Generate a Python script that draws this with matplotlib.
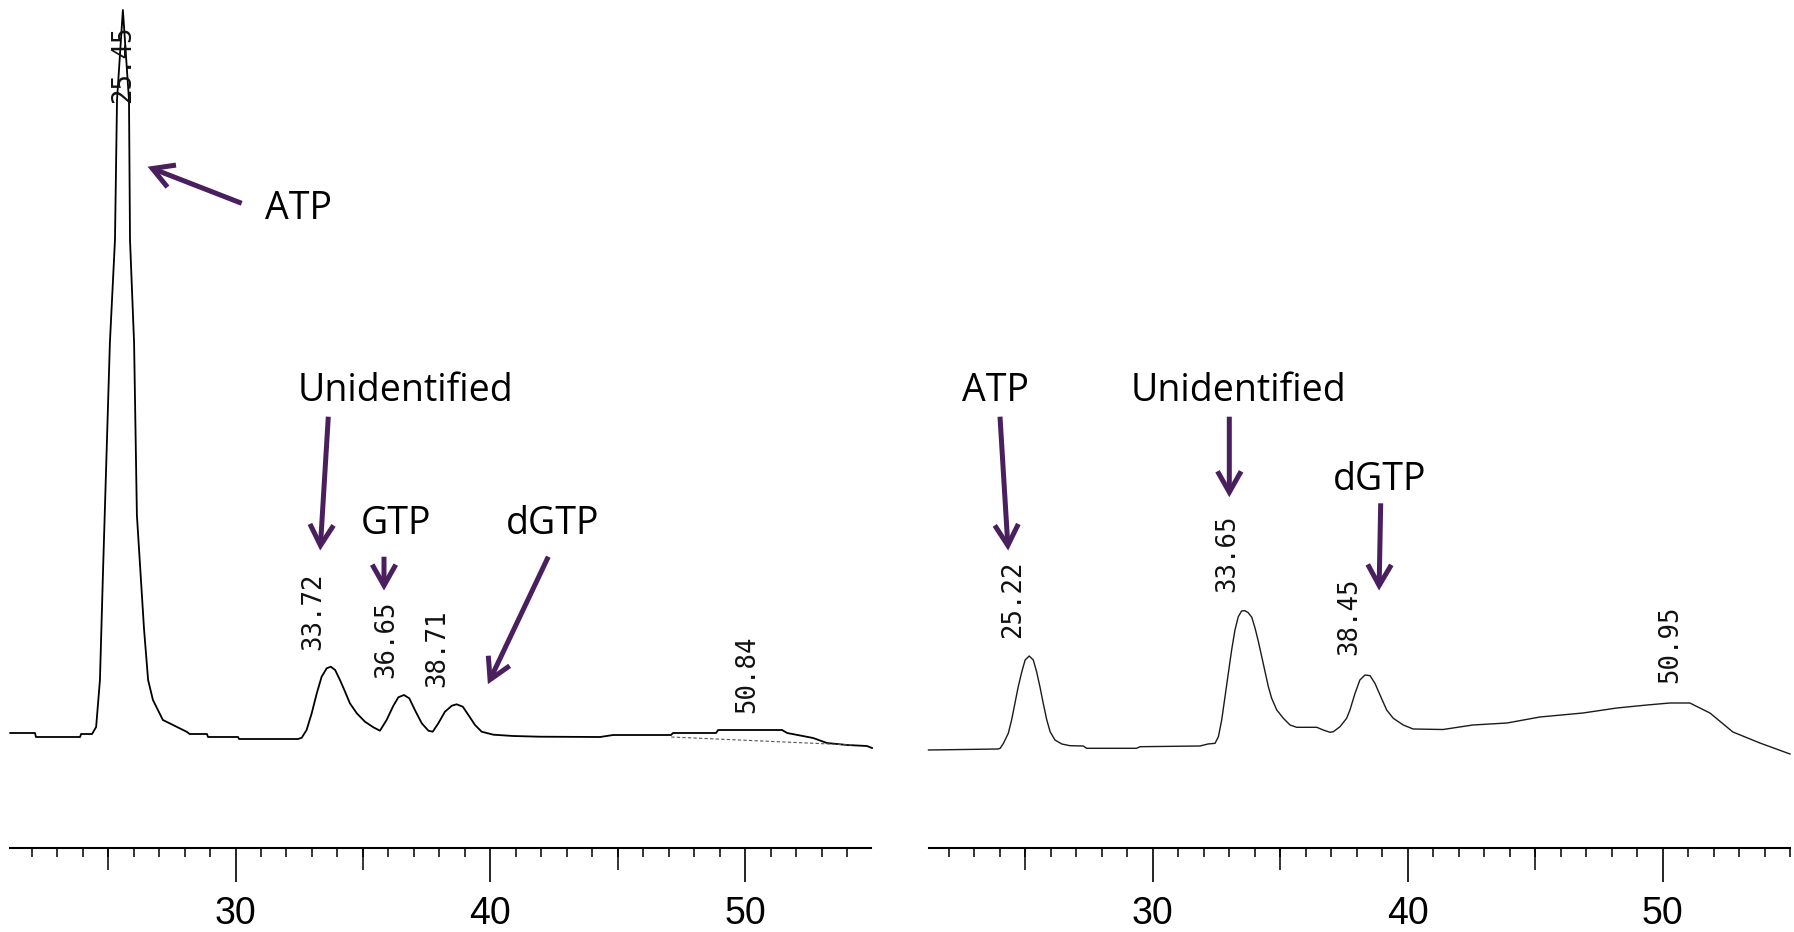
import matplotlib
matplotlib.use("Agg")
import matplotlib.pyplot as plt
from matplotlib.ticker import FixedLocator, MultipleLocator, FixedFormatter

# ---------------- data ----------------
# retention time (min) and detector signal (arbitrary units, baseline ~0)
left_time = [21.16, 22.13, 22.17, 23.90, 23.94, 24.37, 24.53, 24.68, 24.80, 25.07,
             25.27, 25.35, 25.58, 25.82, 25.86, 26.02, 26.13, 26.41, 26.57, 26.76,
             27.15, 27.55, 28.10, 28.20, 28.88, 28.92, 30.10, 30.14, 32.46, 32.60,
             32.79, 32.99, 33.19, 33.38, 33.58, 33.74, 33.91, 34.10, 34.30, 34.49,
             34.76, 35.08, 35.41, 35.67, 35.93, 36.19, 36.39, 36.61, 36.82, 37.04,
             37.31, 37.57, 37.74, 37.96, 38.22, 38.49, 38.68, 38.92, 39.14, 39.40,
             39.66, 40.12, 40.90, 41.95, 44.31, 44.82, 47.09, 47.17, 48.86, 48.94,
             51.45, 51.65, 52.67, 53.21, 54.00, 54.78, 54.98]
left_signal = [5, 5, 1, 1, 4, 4, 11, 58, 166, 395,
               498, 638, 728, 638, 498, 395, 223, 109, 58, 38,
               18, 13, 6, 4, 4, 1, 1, -1, -1, 0.3,
               8, 24.7, 44.7, 61.3, 69.7, 71.3, 68, 58, 46.3, 34.7,
               24.7, 16.3, 10.7, 7.3, 18, 32, 40.7, 43, 39.7, 28,
               14.7, 7.3, 6.3, 14.7, 26.3, 32.3, 33.7, 31.3, 23, 13,
               6.3, 3.3, 2, 1.3, 1, 3, 3, 5, 5, 8,
               8, 5, 0, -5, -7, -8, -10]
left_hump_base_time = [47.10, 54.20]
left_hump_base_signal = [1, -7]
left_rt_labels = ["25.45", "33.72", "36.65", "38.71", "50.84"]

right_time = [21.21, 23.94, 24.02, 24.15, 24.34, 24.47, 24.60, 24.73, 24.87, 25.00,
              25.16, 25.32, 25.45, 25.58, 25.71, 25.85, 25.98, 26.17, 26.44, 26.76,
              27.28, 27.41, 29.37, 29.51, 31.86, 32.17, 32.45, 32.58, 32.71, 32.84,
              32.97, 33.10, 33.23, 33.36, 33.49, 33.62, 33.75, 33.89, 34.02, 34.15,
              34.28, 34.41, 34.54, 34.67, 34.87, 35.13, 35.39, 35.65, 36.44, 36.69,
              36.96, 37.09, 37.35, 37.61, 37.74, 37.94, 38.13, 38.33, 38.53, 38.72,
              38.92, 39.18, 39.44, 39.83, 40.22, 41.39, 42.56, 43.90, 45.19, 46.88,
              48.21, 49.39, 50.29, 51.07, 51.86, 52.76, 53.82, 55.00]
right_signal = [0, 1, 1.7, 6.7, 16.7, 30, 46.7, 63.3, 78.3, 90,
                94, 90, 78.3, 63.3, 46.7, 30, 18.3, 10, 6, 4.3,
                4, 1.7, 1.7, 3.3, 4, 6, 6.7, 13.3, 30, 53.3,
                76.7, 100, 120, 133.3, 139, 139.3, 137.3, 132.7, 121.7, 108.3,
                93.3, 78.3, 63.3, 51.7, 40, 31.7, 25, 22.7, 22.7, 20,
                17.7, 18.3, 23.3, 31.7, 40, 56.7, 70, 75, 74.3, 66.7,
                55, 40, 31.7, 25, 21, 20.5, 25, 27, 33, 37,
                42, 45, 47, 47, 37, 18, 7, -4]
right_rt_labels = ["25.22", "33.65", "38.45", "50.95"]

major_ticks = [30, 40, 50]
major_tick_labels = ["30", "40", "50"]
mid_ticks = [25, 35, 45]

left_names = ["ATP", "Unidentified", "GTP", "dGTP"]
right_names = ["ATP", "Unidentified", "dGTP"]

# ---------------- layout ----------------
W, H = 1794, 932
fig = plt.figure(figsize=(W / 100, H / 100), dpi=100)
fig.patch.set_facecolor("white")

PURPLE = "#4a1f5e"
PX = 0.72  # points per pixel at dpi 100

def fx(p):
    return p / W

def fy(p):
    return 1 - p / H

ruler_y = 848
axL = fig.add_axes([fx(10.3), fy(ruler_y), fx(871 - 10.3), 1 - fy(ruler_y)])
axR = fig.add_axes([fx(928.5), fy(ruler_y), fx(1790 - 928.5), 1 - fy(ruler_y)])
axL.set_xlim(21.162, 54.94)
axL.set_ylim(-110, 738)
axR.set_xlim(21.21, 55.0)
axR.set_ylim(-98, 750)

axL.plot(left_time, left_signal, color="black", lw=1.3, clip_on=False,
         solid_joinstyle="round")
axL.plot(left_hump_base_time, left_hump_base_signal, color="#555555", lw=0.8,
         ls=(0, (3, 2)))
axR.plot(right_time, right_signal, color="#1a1a1a", lw=1.0, clip_on=False,
         solid_joinstyle="round")

tick_font = ["Liberation Sans", "DejaVu Sans"]
for ax in (axL, axR):
    ax.patch.set_alpha(0)
    for s in ("top", "left", "right"):
        ax.spines[s].set_visible(False)
    ax.spines["bottom"].set_linewidth(1.5)
    ax.set_yticks([])
    ax.xaxis.set_major_locator(FixedLocator(major_ticks))
    ax.xaxis.set_major_formatter(FixedFormatter(major_tick_labels))
    ax.xaxis.set_minor_locator(MultipleLocator(1))
    ax.tick_params(axis="x", which="major", direction="out", length=34 * PX,
                   width=1.2, pad=14 * PX, labelsize=27)
    ax.tick_params(axis="x", which="minor", direction="out", length=9 * PX,
                   width=1.1)
    for lab in ax.get_xticklabels():
        lab.set_family(tick_font)
    sec = ax.secondary_xaxis("bottom")
    sec.set_xticks(mid_ticks)
    sec.tick_params(axis="x", which="major", direction="out", length=22 * PX,
                    width=1.1, labelbottom=False)
    sec.tick_params(axis="x", which="minor", length=0)
    sec.spines["bottom"].set_visible(False)

# retention-time labels printed by the integrator (rotated)
rt_font = dict(family="DejaVu Sans Mono", fontsize=18.5, rotation=90,
               ha="center", va="bottom", color="#111111")
left_label_pos = [(25.58, 635), (33.04, 88), (35.93, 60), (37.90, 51), (50.07, 25)]
right_label_pos = [(24.53, 112), (32.91, 158), (37.70, 95), (50.29, 67)]
for txt, (t, s) in zip(left_rt_labels, left_label_pos):
    axL.text(t, s, txt, **rt_font)
for txt, (t, s) in zip(right_rt_labels, right_label_pos):
    axR.text(t, s, txt, **rt_font)

# purple annotations (figure pixel coordinates)
name_font = dict(family=["Open Sans", "DejaVu Sans"], fontsize=27,
                 ha="center", va="center", color="black")
left_text_pos = [(298, 209), (405, 391), (396, 524), (553, 524)]
right_text_pos = [(995, 391), (1238, 391), (1380, 480)]
for name, (x, y) in zip(left_names, left_text_pos):
    fig.text(fx(x), fy(y), name, **name_font)
for name, (x, y) in zip(right_names, right_text_pos):
    fig.text(fx(x), fy(y), name, **name_font)

arrows = [((241.7, 203.3), (145, 165.7)),
          ((328.3, 416.7), (320, 553.3)),
          ((384, 556.7), (384, 593.3)),
          ((548.3, 556.7), (486.7, 686.7)),
          ((1000, 416.7), (1008.3, 553.3)),
          ((1229.3, 416.7), (1229.3, 500)),
          ((1380.7, 503.3), (1379, 593.3))]
for (tx, ty), (hx, hy) in arrows:
    fig.add_artist(matplotlib.patches.FancyArrowPatch(
        (fx(tx), fy(ty)), (fx(hx), fy(hy)), transform=fig.transFigure,
        arrowstyle="->,head_length=1.5,head_width=0.85", mutation_scale=10,
        lw=3.6, color=PURPLE, shrinkA=0, shrinkB=2, capstyle="butt",
        joinstyle="miter"))

fig.savefig("out.png", dpi=100, facecolor="white")
